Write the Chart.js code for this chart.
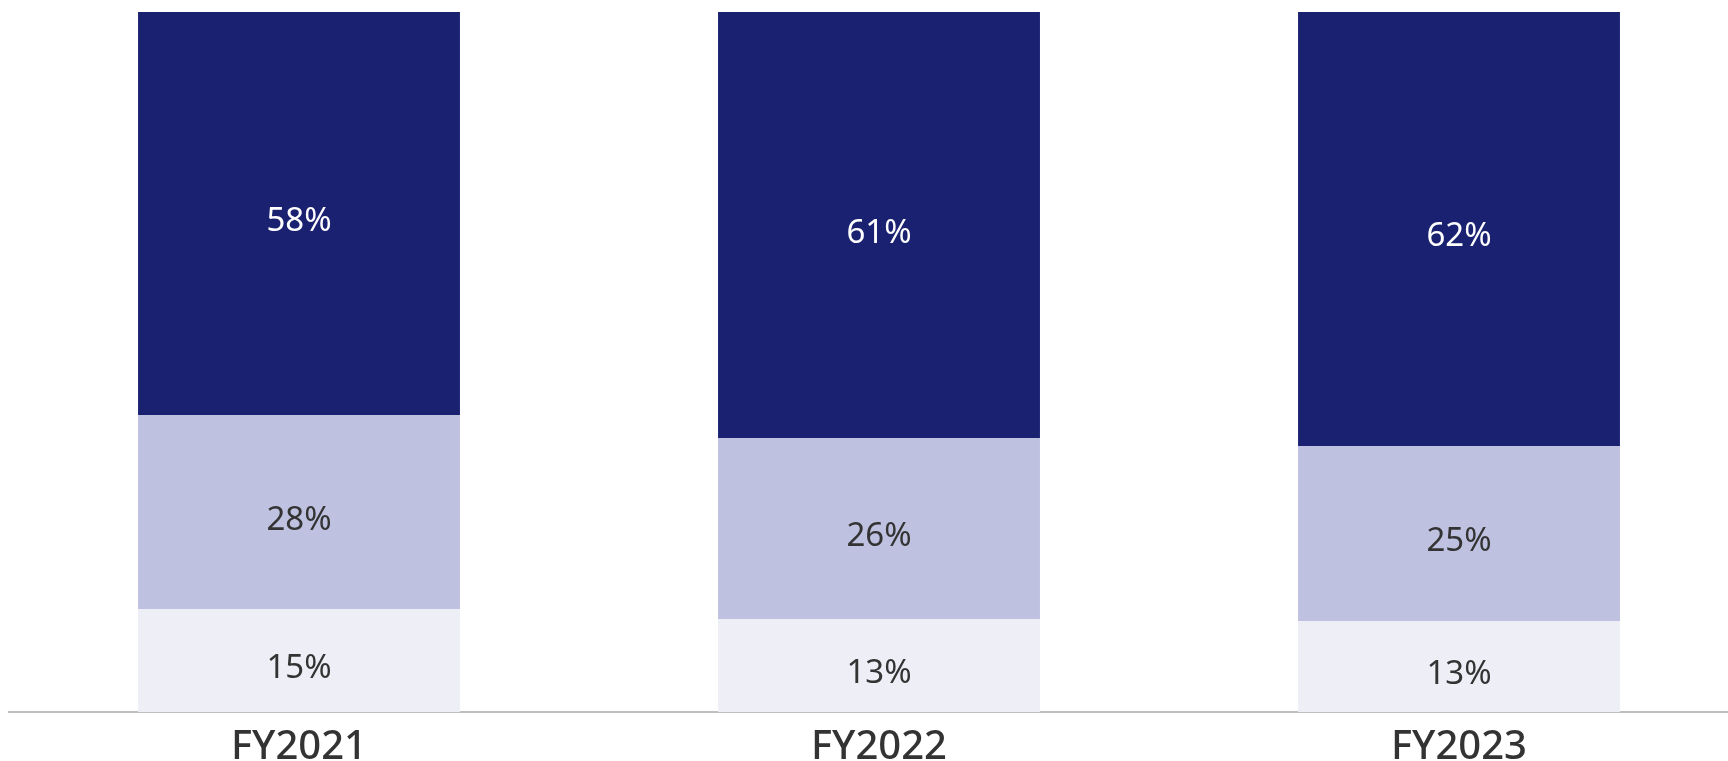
<!DOCTYPE html>
<html>
<head>
<meta charset="utf-8">
<script src="https://cdn.jsdelivr.net/npm/chart.js@4.4.0/dist/chart.umd.min.js"></script>
<style>
  html, body { margin: 0; padding: 0; background: #fff; overflow: hidden; }
  #wrap { width: 1760px; height: 776px; }
</style>
</head>
<body>
<div id="wrap"><canvas id="myChart"></canvas></div>
<script>
// data (share of each year, %)
const categories = ["FY2021", "FY2022", "FY2023"];
const bottomShare = [14.7, 13.3, 13.0];
const middleShare = [27.7, 25.8, 25.0];
const topShare = [57.6, 60.9, 62.1];

// draws "NN%" in the middle of each bar segment
const segmentLabels = {
  id: "segmentLabels",
  afterDatasetsDraw(chart) {
    const ctx = chart.ctx;
    ctx.save();
    ctx.font = "33px 'Noto Sans'";
    ctx.textAlign = "center";
    ctx.textBaseline = "middle";
    chart.data.datasets.forEach((ds, i) => {
      const meta = chart.getDatasetMeta(i);
      meta.data.forEach((bar, j) => {
        const props = bar.getProps(["x", "y", "base"], true);
        ctx.fillStyle = ds.labelColor;
        ctx.fillText(Math.round(ds.data[j]) + "%", props.x, (props.y + props.base) / 2 + 8);
      });
    });
    ctx.restore();
  },
};

new Chart(document.getElementById("myChart"), {
  type: "bar",
  data: {
    labels: categories,
    datasets: [
      { data: bottomShare, backgroundColor: "#EEEEF7", labelColor: "#333333" },
      { data: middleShare, backgroundColor: "#BEC1DF", labelColor: "#333333" },
      { data: topShare, backgroundColor: "#1A2170", labelColor: "#FFFFFF" },
    ],
  },
  options: {
    responsive: true,
    maintainAspectRatio: false,
    animation: false,
    layout: { padding: { left: 9, right: 11, top: 12, bottom: 0 } },
    plugins: { legend: { display: false }, tooltip: { enabled: false } },
    datasets: { bar: { categoryPercentage: 1, barPercentage: 0.555 } },
    scales: {
      x: {
        stacked: true,
        grid: { display: false },
        border: { display: true, color: "#BFBFBF", width: 2 },
        ticks: {
          color: "#333333",
          padding: 6,
          font: { family: "'Noto Sans'", size: 40, weight: "500", lineHeight: 1.1 },
        },
      },
      y: {
        stacked: true,
        display: false,
        min: 0,
        max: 100,
      },
    },
  },
  plugins: [segmentLabels],
});
</script>
</body>
</html>
